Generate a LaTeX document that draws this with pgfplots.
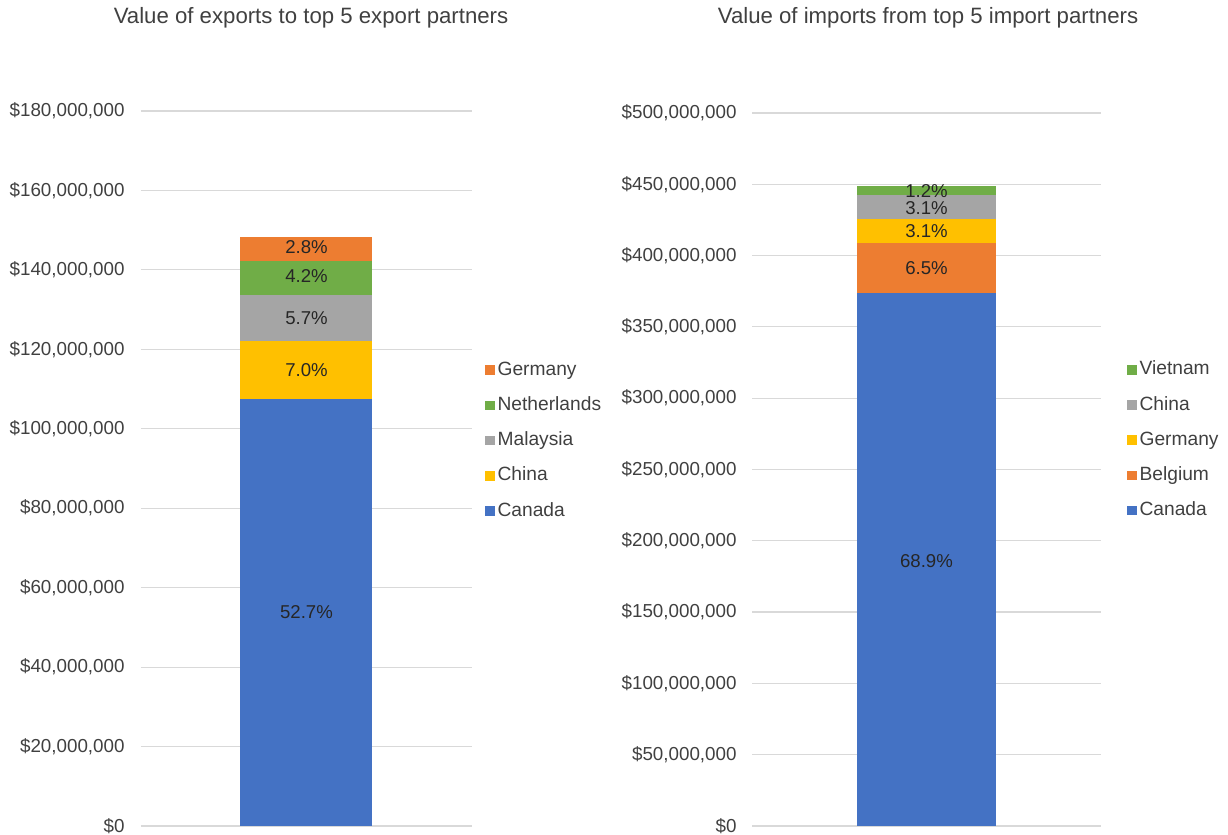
\documentclass[border=0pt]{standalone}
\usepackage{pgfplots}
\pgfplotsset{compat=1.18}
\usepackage{fontspec}
\setmainfont{Liberation Sans}
\definecolor{cblue}{HTML}{4472C4}
\definecolor{corange}{HTML}{ED7D31}
\definecolor{cgray}{HTML}{A5A5A5}
\definecolor{cyellow}{HTML}{FFC000}
\definecolor{cgreen}{HTML}{70AD47}
\definecolor{gridc}{HTML}{D9D9D9}
\definecolor{txt}{HTML}{404040}
\definecolor{lbl}{HTML}{262626}
\tikzset{pct/.style={font=\fontsize{9.3}{11}\selectfont, text=lbl},
  ttl/.style={font=\fontsize{11.1}{13}\selectfont, text=txt, anchor=base}}
\pgfplotsset{
  mybase/.style={
    scale only axis,
    ybar stacked,
    legend image code/.code={\fill[##1,draw=none] (0pt,-2.4pt) rectangle (4.8pt,2.4pt);},
    xmin=-0.5, xmax=0.5,
    xtick=\empty,
    axis line style={draw=none},
    major tick length=0pt,
    ymajorgrids,
    grid style={color=gridc, line width=0.6pt},
    ymin=0,
    scaled y ticks=false,
    tick label style={font=\fontsize{9.4}{11}\selectfont, text=txt},
    yticklabel style={anchor=east, inner sep=0pt},
    reverse legend,
    legend cell align=left,
    legend style={draw=none, fill=none, anchor=west, inner sep=0pt, outer sep=0pt,
      font=\fontsize{9.6}{11}\selectfont, text=txt, row sep=6pt, column sep=0pt,
      nodes={inner sep=1.5pt, text height=6.8pt, text depth=1.8pt}},
  },
}
\begin{document}
\begin{tikzpicture}
\useasboundingbox (0,0) rectangle (614pt,417.5pt);
% ---------------- Exports ----------------
\begin{axis}[mybase,
  at={(70.5pt,4.5pt)}, anchor=south west,
  width=165.5pt, height=357.5pt,
  ymax=180000000,
  ytick={0,20000000,40000000,60000000,80000000,100000000,120000000,140000000,160000000,180000000},
  yticklabels={{\$0},{\$20,000,000},{\$40,000,000},{\$60,000,000},{\$80,000,000},{\$100,000,000},{\$120,000,000},{\$140,000,000},{\$160,000,000},{\$180,000,000}},
  yticklabel style={xshift=-8pt},
  bar width=66pt,
  legend style={at={(1,0.539)}, xshift=6.5pt},
]
\addplot[fill=cblue, draw=none] coordinates {(0,107600000)};
\addplot[fill=cyellow, draw=none] coordinates {(0,14400000)};
\addplot[fill=cgray, draw=none] coordinates {(0,11800000)};
\addplot[fill=cgreen, draw=none] coordinates {(0,8500000)};
\addplot[fill=corange, draw=none] coordinates {(0,5900000)};
\legend{Canada,China,Malaysia,Netherlands,Germany}
\coordinate (e1) at (axis cs:0,53800000);
\coordinate (e2) at (axis cs:0,114800000);
\coordinate (e3) at (axis cs:0,127900000);
\coordinate (e4) at (axis cs:0,138550000);
\coordinate (e5) at (axis cs:0,145750000);
\end{axis}
\node[pct] at (e1) {52.7\%};
\node[pct] at (e2) {7.0\%};
\node[pct] at (e3) {5.7\%};
\node[pct] at (e4) {4.2\%};
\node[pct] at (e5) {2.8\%};
\node[ttl] at (155.5pt,405.5pt) {Value of exports to top 5 export partners};
% ---------------- Imports ----------------
\begin{axis}[mybase,
  at={(376pt,4.5pt)}, anchor=south west,
  width=174.5pt, height=356.5pt,
  ymax=500000000,
  ytick={0,50000000,100000000,150000000,200000000,250000000,300000000,350000000,400000000,450000000,500000000},
  yticklabels={{\$0},{\$50,000,000},{\$100,000,000},{\$150,000,000},{\$200,000,000},{\$250,000,000},{\$300,000,000},{\$350,000,000},{\$400,000,000},{\$450,000,000},{\$500,000,000}},
  yticklabel style={xshift=-7.5pt},
  bar width=69.5pt,
  legend style={at={(1,0.541)}, xshift=13pt},
]
\addplot[fill=cblue, draw=none] coordinates {(0,373900000)};
\addplot[fill=corange, draw=none] coordinates {(0,34800000)};
\addplot[fill=cyellow, draw=none] coordinates {(0,16900000)};
\addplot[fill=cgray, draw=none] coordinates {(0,16600000)};
\addplot[fill=cgreen, draw=none] coordinates {(0,6600000)};
\legend{Canada,Belgium,Germany,China,Vietnam}
\coordinate (i1) at (axis cs:0,186000000);
\coordinate (i2) at (axis cs:0,391300000);
\coordinate (i3) at (axis cs:0,417000000);
\coordinate (i4) at (axis cs:0,433000000);
\coordinate (i5) at (axis cs:0,445500000);
\end{axis}
\node[pct] at (i1) {68.9\%};
\node[pct] at (i2) {6.5\%};
\node[pct] at (i3) {3.1\%};
\node[pct] at (i4) {3.1\%};
\node[pct] at (i5) {1.2\%};
\node[ttl] at (464pt,405.5pt) {Value of imports from top 5 import partners};
\end{tikzpicture}
\end{document}
